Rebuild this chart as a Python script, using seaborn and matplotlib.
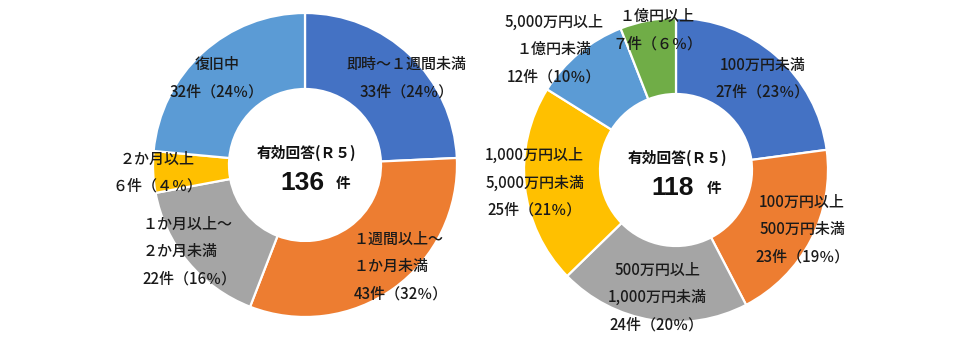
import matplotlib
matplotlib.use("Agg")
import matplotlib.pyplot as plt
import seaborn as sns

sns.set_theme(style="white")
plt.rcParams['font.family'] = ['Noto Sans CJK JP', 'DejaVu Sans']

# ---- data ----
left_categories = ["即時～１週間未満", "１週間以上～\n１か月未満", "１か月以上～\n２か月未満", "２か月以上", "復旧中"]
left_counts = [33, 43, 22, 6, 32]
left_pct_labels = ["33件（24％）", "43件（32％）", "22件（16％）", "６件（４％）", "32件（24％）"]
left_total = "136"

right_categories = ["100万円未満", "100万円以上\n500万円未満", "500万円以上\n1,000万円未満",
                    "1,000万円以上\n5,000万円未満", "5,000万円以上\n１億円未満", "１億円以上"]
right_counts = [27, 23, 24, 25, 12, 7]
right_pct_labels = ["27件（23％）", "23件（19％）", "24件（20％）", "25件（21％）", "12件（10％）", "７件（６％）"]
right_total = "118"

center_title = "有効回答(Ｒ５)"
unit = "件"

palette = ["#4472C4", "#ED7D31", "#A5A5A5", "#FFC000", "#5B9BD5", "#70AD47"]

# ---- layout (label positions in radius units) ----
left_label_pos = [(0.67, 0.57), (0.63, -0.67), (-0.76, -0.57), (-0.97, -0.05), (-0.58, 0.57)]
left_label_align = ["center", "left", "left", "center", "center"]
right_label_pos = [(0.57, 0.60), (0.83, -0.39), (-0.125, -0.84), (-0.93, -0.085), (-0.80, 0.79), (-0.125, 0.92)]
right_label_align = ["center"] * 6

W, H = 971, 338
fig = plt.figure(figsize=(W / 100, H / 100), dpi=100)
fig.patch.set_facecolor("white")

LIM = 1.1
R = 152


def make_ax(cx, cy_top):
    half = R * LIM
    cy = H - cy_top
    return fig.add_axes([(cx - half) / W, (cy - half) / H, 2 * half / W, 2 * half / H])


def donut(ax, counts, cats, pcts, pos, aligns, total):
    ax.pie(counts, colors=palette[:len(counts)], startangle=90, counterclock=False,
           radius=1.0, wedgeprops=dict(width=0.5, edgecolor="white", linewidth=1.6))
    ax.set_xlim(-LIM, LIM)
    ax.set_ylim(-LIM, LIM)
    ax.set_aspect("equal")
    ax.axis("off")
    for cat, pct, (x, y), al in zip(cats, pcts, pos, aligns):
        ax.text(x, y, cat + "\n" + pct, ha="center", va="center", fontsize=10.8,
                color="#1a1a1a", linespacing=1.8, multialignment=al, fontweight="medium")
    ax.text(0.01, 0.08, center_title, ha="center", va="center", fontsize=10.6,
            fontweight="bold", color="#111111")
    ax.text(-0.02, -0.12, total, ha="center", va="center", fontsize=19,
            fontweight="bold", color="#111111", family=['Liberation Sans', 'DejaVu Sans'])
    ax.text(0.25, -0.12, unit, ha="center", va="center", fontsize=10.5,
            fontweight="bold", color="#111111")


axL = make_ax(305, 165)
donut(axL, left_counts, left_categories, left_pct_labels, left_label_pos, left_label_align, left_total)
axR = make_ax(676, 170)
donut(axR, right_counts, right_categories, right_pct_labels, right_label_pos, right_label_align, right_total)

fig.savefig("out.png", dpi=100, facecolor="white")
